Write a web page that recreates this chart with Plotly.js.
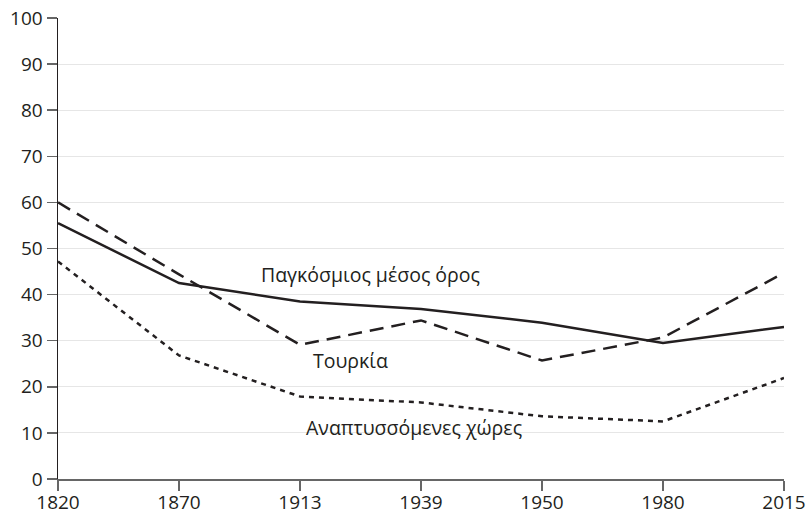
<!DOCTYPE html>
<html>
<head>
<meta charset="utf-8">
<script src="https://cdn.plot.ly/plotly-3.0.1.min.js"></script>
<style>html,body{margin:0;padding:0;background:#fff;}#chart{width:808px;height:515px;}</style>
</head>
<body>
<div id="chart"></div>
<script>
const years = ['1820', '1870', '1913', '1939', '1950', '1980', '2015'];
const worldAverage = [55.5, 42.5, 38.5, 36.9, 33.9, 29.5, 33.0];
const turkey = [60.0, 44.4, 29.1, 34.4, 25.7, 30.7, 44.7];
const developing = [47.2, 26.8, 17.9, 16.6, 13.6, 12.5, 21.9];
const yTicks = [0, 10, 20, 30, 40, 50, 60, 70, 80, 90, 100];
const labelWorld = 'Παγκόσμιος μέσος όρος';
const labelTurkey = 'Τουρκία';
const labelDeveloping = 'Αναπτυσσόμενες χώρες';

const ink = '#231f20';
const font = 'Open Sans';

const traces = [
  {x: years, y: worldAverage, type: 'scatter', mode: 'lines', name: labelWorld,
   line: {color: ink, width: 2.5}},
  {x: years, y: turkey, type: 'scatter', mode: 'lines', name: labelTurkey,
   line: {color: ink, width: 2.5, dash: '14px,8px'}},
  {x: years, y: developing, type: 'scatter', mode: 'lines', name: labelDeveloping,
   line: {color: ink, width: 2.5, dash: '5px,5px'}}
];

const layout = {
  width: 808, height: 515,
  margin: {l: 58, r: 24, t: 18, b: 36},
  paper_bgcolor: '#fff', plot_bgcolor: '#fff',
  showlegend: false,
  font: {family: font, size: 19, color: ink},
  xaxis: {
    type: 'category', range: [0, 6], showgrid: false, zeroline: false,
    showline: true, linecolor: '#666', linewidth: 1.5,
    ticks: 'outside', ticklen: 10, tickcolor: '#666', tickwidth: 1.5,
    ticklabelstandoff: -4,
    tickfont: {family: font, size: 19, color: ink}
  },
  yaxis: {
    range: [0, 100], tickvals: yTicks, showgrid: true, gridcolor: '#e6e6e6', gridwidth: 1,
    zeroline: false, showline: true, linecolor: ink, linewidth: 1.5,
    ticks: 'outside', ticklen: 10, tickcolor: '#666', tickwidth: 1.5,
    tickfont: {family: font, size: 19, color: ink}
  },
  annotations: [
    {x: 2.58, y: 44.3, xref: 'x', yref: 'y', text: labelWorld, showarrow: false,
     font: {family: font, size: 19.5, color: ink}},
    {x: 2.42, y: 25.6, xref: 'x', yref: 'y', text: labelTurkey, showarrow: false,
     font: {family: font, size: 19.5, color: ink}},
    {x: 2.94, y: 11.1, xref: 'x', yref: 'y', text: labelDeveloping, showarrow: false,
     font: {family: font, size: 19.5, color: ink}}
  ]
};

Plotly.newPlot('chart', traces, layout, {displayModeBar: false, staticPlot: true});
</script>
</body>
</html>
